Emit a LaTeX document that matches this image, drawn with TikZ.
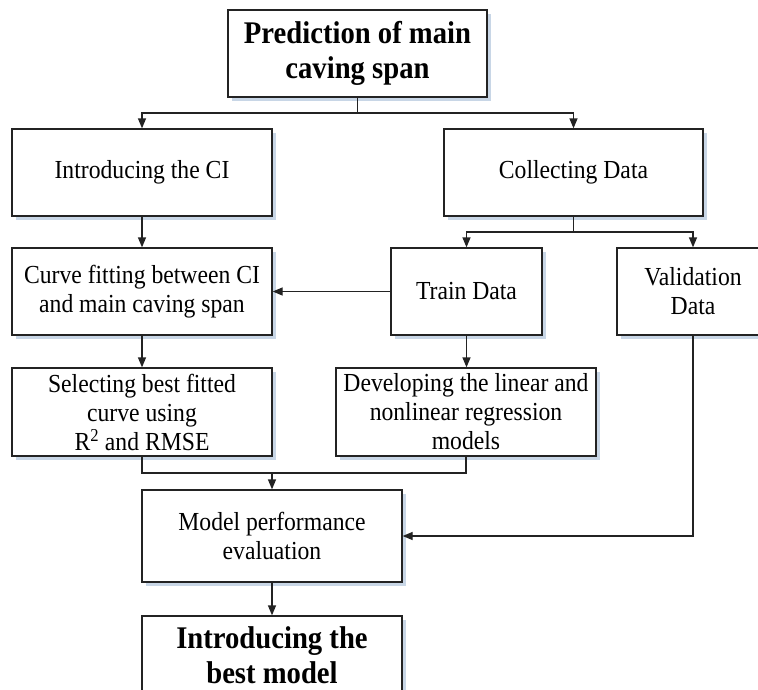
\documentclass[tikz,border=0pt]{standalone}
\usepackage{fontspec}
\setmainfont{Liberation Serif}[FakeStretch=0.91]
\usetikzlibrary{arrows.meta,shadows}
\definecolor{shadowc}{RGB}{200,214,230}
\definecolor{linec}{RGB}{35,35,35}
\tikzset{
  box/.style={draw=linec, line width=1.3pt, fill=white, minimum height=87pt,
    inner sep=0pt, align=center, text=black,
    font=\fontsize{26}{29}\selectfont,
    drop shadow={shadow xshift=4pt, shadow yshift=-4pt, fill=shadowc, opacity=1}},
  bbox/.style={box, font=\fontsize{31.5}{35}\selectfont\bfseries},
  btext/.style={inner sep=0pt, align=center, text=black, font=\fontsize{31.5}{35}\selectfont\bfseries},
  conn/.style={draw=linec, line width=1.3pt},
  arr/.style={conn, -{Triangle[length=10pt,width=8pt]}},
}
\begin{document}
\begin{tikzpicture}[x=1pt,y=-1pt]
\clip (0,0) rectangle (758,689);
\fill[white] (0,0) rectangle (758,689);
% boxes
\node[bbox, minimum width=259pt] (top) at (357.5,53.5) {Prediction of main\\caving span};
\node[box, minimum width=260pt] (intro) at (142,172.5) {Introducing the CI};
\node[box, minimum width=259pt] (collect) at (573.5,172.5) {Collecting Data};
\node[box, minimum width=260pt] (curve) at (142,291.5) {Curve fitting between CI\\and main caving span};
\node[box, minimum width=151pt] (train) at (466.5,291.5) {Train Data};
\node[box, minimum width=152pt] (valid) at (693,291.5) {Validation\\Data};
\node[box, minimum width=260pt, minimum height=88pt] (select) at (142,412) {Selecting best fitted\\curve using\\R\textsuperscript{2} and RMSE};
\node[box, minimum width=260pt, minimum height=88pt] (develop) at (466,412) {Developing the linear and\\nonlinear regression\\models};
\node[box, minimum width=260pt, minimum height=92pt] (model) at (272,536) {Model performance\\evaluation};
\node[box, minimum width=260pt, minimum height=88pt] (best) at (272,660) {};
\node[btext] (besttxt) at (272,655) {Introducing the\\best model};
% connectors
\coordinate (s1) at (357.5,113);
\draw[conn] (top.south) -- (s1);
\draw[arr] (s1) -| (intro.north);
\draw[arr] (s1) -| (collect.north);
\draw[arr] (intro.south) -- (curve.north);
\coordinate (s2) at (573.5,232);
\draw[conn] (collect.south) -- (s2);
\draw[arr] (s2) -| (train.north);
\draw[arr] (s2) -| (valid.north);
\draw[arr] (train.west) -- (curve.east);
\draw[arr] (curve.south) -- (select.north);
\draw[arr] (train.south) -- (train.south |- develop.north);
\coordinate (j) at (272,473);
\draw[conn] (select.south) |- (j);
\draw[conn] (develop.south) |- (j);
\draw[arr] (j) -- (model.north);
\draw[arr] (valid.south) |- (model.east);
\draw[arr] (model.south) -- (best.north);
\end{tikzpicture}
\end{document}
